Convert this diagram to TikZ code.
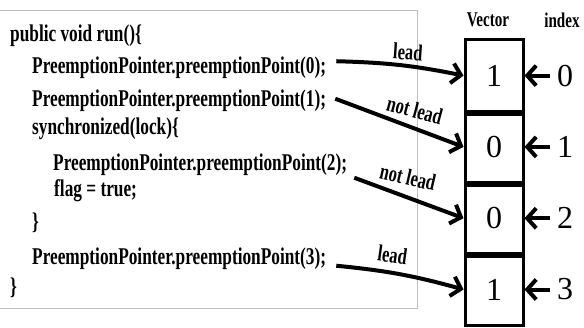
\documentclass[tikz,border=0pt]{standalone}
\usepackage{fontspec}
\setmainfont{Liberation Serif}
\newfontfamily\codefont{Liberation Serif}[FakeStretch=0.72]
\usetikzlibrary{positioning,arrows.meta}
\newcommand{\cnode}[3]{\node [code] (#1) at (#2) {#3}}
\tikzset{
  code/.style={anchor=base west, inner sep=0pt, font=\codefont\bfseries\fontsize{24}{24}\selectfont},
  cell/.style={draw, line width=3pt, minimum width=58pt, minimum height=71.3pt, inner sep=0pt, font=\fontsize{32}{32}\selectfont},
  idx/.style={inner sep=0pt, font=\fontsize{32}{32}\selectfont},
  head/.style={font=\codefont\bfseries\fontsize{21}{21}\selectfont},
  lbl/.style={inner sep=0pt, font=\codefont\bfseries\fontsize{23}{23}\selectfont},
  leadarrow/.style={line width=4pt, -{Straight Barb[length=9pt,width=20pt]}},
  idxarrow/.style={line width=4pt, shorten <=7pt, -{Straight Barb[length=9pt,width=20pt]}},
  sep/.style={line width=5.5pt}
}

\begin{document}
\begin{tikzpicture}[x=1pt,y=-1pt]
\useasboundingbox (0,0) rectangle (584,327);

% code frame
\draw[gray!50, line width=1pt] (0,10) -- (417,10) -- (417,308) -- (0,308);

\cnode{L1}{10,41}{public void run()\{};
\cnode{L2}{32,73}{PreemptionPointer.preemptionPoint(0);};
\cnode{L3}{32,106}{PreemptionPointer.preemptionPoint(1);};
\cnode{L4}{32,134}{synchronized(lock)\{};
\cnode{L5}{53,170}{PreemptionPointer.preemptionPoint(2);};
\cnode{L6}{54,196}{flag = true;};
\cnode{L7}{32,229}{\}};
\cnode{L8}{32,264}{PreemptionPointer.preemptionPoint(3);};
\cnode{L9}{10,294}{\}};

% vector
\node[cell] (V0) at (494,75.6) {1};
\node[cell] (V1) at (494,146.9) {0};
\node[cell] (V2) at (494,218.2) {0};
\node[cell] (V3) at (494,289.5) {1};
\draw[sep] (V0.south west) -- (V0.south east);
\draw[sep] (V1.south west) -- (V1.south east);
\draw[sep] (V2.south west) -- (V2.south east);

\node[head] (VEC) at (488,20) {Vector};
\node[head] (IDX) at (562,20) {index};

\node[idx] (I0) at (565,75.6) {0};
\node[idx] (I1) at (565,146.9) {1};
\node[idx] (I2) at (565,218.2) {2};
\node[idx] (I3) at (565,289.5) {3};

\draw[idxarrow] (I0.west) -- (V0.east);
\draw[idxarrow] (I1.west) -- (V1.east);
\draw[idxarrow] (I2.west) -- (V2.east);
\draw[idxarrow] (I3.west) -- (V3.east);

\draw[leadarrow] ([shift={(10pt,6pt)}]L2.east) to[bend left=5] node[lbl, pos=.56, above=4pt, rotate=-4] {lead} (V0.west);
\draw[leadarrow] ([shift={(9pt,1.5pt)}]L3.east) -- node[lbl, pos=.6, above=8pt, rotate=-15] {not lead} (V1.west);
\draw[leadarrow] ([shift={(7pt,-13.5pt)}]L5.east) -- node[lbl, pos=.47, above=10pt, rotate=-13] {not lead} (V2.west);
\draw[leadarrow] ([shift={(10pt,-7.5pt)}]L8.east) to[bend left=5] node[lbl, pos=.42, above=8pt, rotate=-8] {lead} (V3.west);

\end{tikzpicture}
\end{document}
